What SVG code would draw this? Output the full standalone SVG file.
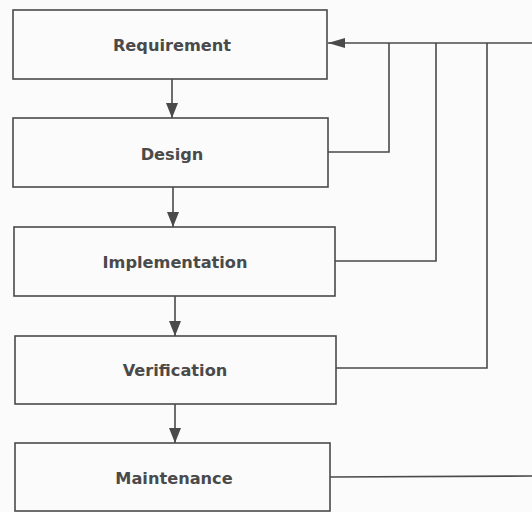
<svg xmlns="http://www.w3.org/2000/svg" width="532" height="512" viewBox="0 0 532 512">
  <style>
    .box { fill: #fbfbfb; stroke: #4a4a4a; stroke-width: 1.6; }
    .label { font-family: "DejaVu Sans", "Liberation Sans", sans-serif; font-weight: bold; font-size: 16.2px; fill: #4a4a4a; text-anchor: middle; dominant-baseline: central; }
    .wire { fill: none; stroke: #4a4a4a; stroke-width: 1.6; }
  </style>
  <defs>
    <marker id="arrowHead" viewBox="0 0 15 12" refX="15" refY="6" markerWidth="15" markerHeight="12" markerUnits="userSpaceOnUse" orient="auto">
      <path d="M0,0 L15,6 L0,12 z" fill="#4a4a4a"/>
    </marker>
    <marker id="returnHead" viewBox="0 0 17 10" refX="17" refY="5" markerWidth="17" markerHeight="10" markerUnits="userSpaceOnUse" orient="auto">
      <path d="M0,0 L17,5 L0,10 z" fill="#4a4a4a"/>
    </marker>
  </defs>
  <rect width="532" height="512" fill="#fbfbfb"/>

  <g id="requirement">
    <rect class="box" x="13" y="10" width="314" height="69"/>
    <text class="label" x="172" y="45">Requirement</text>
  </g>
  <g id="design">
    <rect class="box" x="13" y="118" width="315" height="69"/>
    <text class="label" x="172" y="154">Design</text>
  </g>
  <g id="implementation">
    <rect class="box" x="14" y="227" width="321" height="69"/>
    <text class="label" x="175" y="262">Implementation</text>
  </g>
  <g id="verification">
    <rect class="box" x="15" y="336" width="321" height="68"/>
    <text class="label" x="175" y="370">Verification</text>
  </g>
  <g id="maintenance">
    <rect class="box" x="15" y="443" width="315" height="68"/>
    <text class="label" x="174" y="478">Maintenance</text>
  </g>

  <g id="connectors">
    <!-- forward flow -->
    <line class="wire" x1="172" y1="79" x2="172" y2="118" marker-end="url(#arrowHead)"/>
    <line class="wire" x1="173" y1="187" x2="173" y2="227" marker-end="url(#arrowHead)"/>
    <line class="wire" x1="175" y1="296" x2="175" y2="336" marker-end="url(#arrowHead)"/>
    <line class="wire" x1="175" y1="404" x2="175" y2="443" marker-end="url(#arrowHead)"/>
    <!-- feedback bus into Requirement -->
    <line class="wire" x1="532" y1="43" x2="328" y2="43" marker-end="url(#returnHead)"/>
    <polyline class="wire" points="328,152 389,152 389,43"/>
    <polyline class="wire" points="335,261 436,261 436,43"/>
    <polyline class="wire" points="336,368 487,368 487,43"/>
    <line class="wire" x1="330" y1="477" x2="532" y2="476"/>
  </g>
</svg>
